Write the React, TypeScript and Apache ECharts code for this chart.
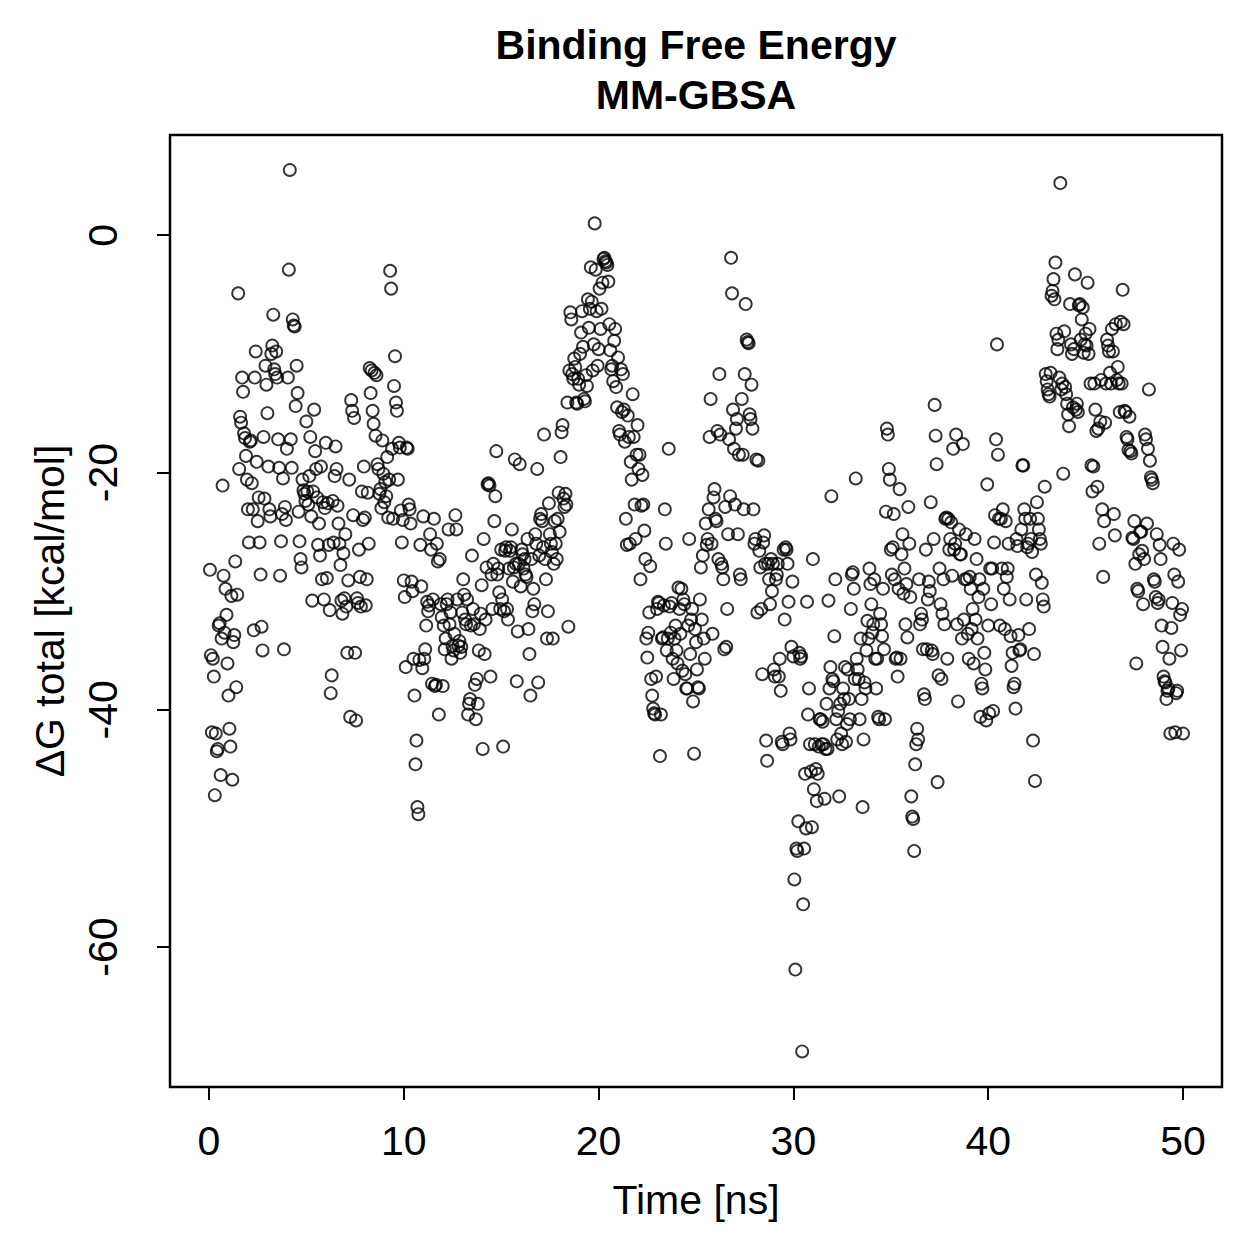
import React, { useEffect, useRef } from "react";
import * as echarts from "echarts";

// ΔG total [kcal/mol] values, one row per nanosecond of simulation time
const dGRowsByNs: number[][] = [
  [-28.2, -35.4, -41.9, -35.7, -37.2, -47.2, -42.0, -43.5, -43.3, -32.9, -32.7, -45.5, -34.0, -21.1, -28.7, -33.5, -29.8, -32.0, -36.1, -38.8],
  [-41.6, -43.1, -30.4, -45.9, -34.3, -33.7, -27.5, -38.1, -30.3, -4.9, -19.7, -15.3, -15.8, -12.0, -13.2, -16.7, -17.1, -18.6, -20.6, -23.1],
  [-25.9, -17.4, -17.3, -20.9, -23.1, -33.3, -12.0, -9.8, -19.1, -24.1, -22.1, -25.9, -28.6, -33.0, -35.0, -17.0, -22.2, -11.0, -12.6, -15.0],
  [-19.5, -23.1, -23.7, -10.0, -9.3, -6.7, -11.3, -11.7, -9.8, -12.0, -17.2, -19.6, -28.7, -25.8, -23.5, -20.5, -34.9, -22.9, -24.0, -18.0],
  [-12.0, -2.9, 5.5, -17.2, -19.6, -7.1, -7.6, -7.7, -14.4, -11.0, -13.3, -23.3, -25.8, -27.3, -28.0, -20.6, -21.5, -21.8, -22.4, -15.7],
  [-21.6, -22.7, -20.3, -17.0, -23.7, -30.8, -21.6, -14.7, -18.2, -19.7, -22.1, -26.1, -24.3, -27.0, -19.5, -29.0, -22.5, -30.7, -23.0, -17.5],
  [-28.9, -22.6, -26.1, -31.6, -38.6, -37.1, -22.4, -25.9, -20.3, -17.8, -19.7, -22.8, -24.3, -26.0, -27.8, -30.8, -31.9, -26.8, -30.6, -25.2],
  [-31.3, -35.2, -29.1, -20.6, -40.6, -13.9, -14.8, -23.6, -15.4, -35.2, -40.9, -30.6, -31.0, -26.5, -28.8, -31.3, -21.6, -24.0, -19.5, -23.8],
  [-31.2, -29.0, -21.7, -26.0, -11.2, -13.3, -11.4, -14.8, -15.9, -11.6, -16.9, -11.8, -19.3, -19.7, -21.8, -21.4, -23.0, -17.3, -20.1, -22.5],
  [-20.8, -22.0, -18.7, -23.8, -20.6, -3.0, -4.5, -18.0, -23.9, -12.7, -10.2, -14.1, -14.8, -20.6, -17.5, -17.9, -23.2, -25.9, -24.0, -29.1],
  [-30.5, -36.4, -17.9, -18.0, -22.7, -23.1, -24.3, -29.2, -30.0, -35.7, -38.8, -44.6, -42.6, -48.2, -48.8, -35.8, -26.1, -29.6, -36.5, -23.7],
  [-35.7, -34.9, -32.9, -30.9, -31.7, -31.2, -25.2, -26.5, -37.8, -30.7, -23.9, -38.0, -37.9, -26.0, -27.5, -40.4, -27.3, -31.1, -32.2, -38.0],
  [-32.9, -34.9, -34.0, -31.1, -30.7, -24.8, -32.8, -31.8, -35.7, -34.6, -35.0, -33.6, -23.6, -24.8, -30.7, -34.6, -34.2, -35.2, -34.7, -31.8],
  [-29.0, -30.3, -32.4, -32.8, -30.7, -40.4, -39.5, -39.1, -32.9, -27.0, -31.5, -32.8, -37.9, -40.8, -37.4, -39.5, -35.0, -33.2, -31.9, -29.5],
  [-43.3, -25.6, -35.3, -32.4, -28.0, -21.0, -20.9, -21.1, -37.2, -28.6, -31.5, -27.7, -24.1, -22.0, -18.2, -28.6, -28.1, -30.1, -31.5, -26.5],
  [-30.7, -43.1, -31.7, -26.6, -26.3, -31.5, -32.4, -28.1, -26.6, -26.3, -24.8, -29.2, -28.0, -18.9, -27.7, -37.6, -33.4, -27.7, -19.3, -29.6],
  [-26.5, -26.9, -28.1, -27.3, -28.6, -28.8, -25.6, -33.2, -35.3, -38.8, -27.3, -31.7, -29.8, -31.1, -25.2, -26.0, -19.7, -37.7, -27.0, -23.9],
  [-23.5, -24.1, -26.3, -16.8, -27.3, -29.0, -34.0, -31.7, -22.6, -25.2, -26.0, -26.7, -34.0, -27.7, -24.1, -26.0, -27.3, -23.9, -21.7, -25.0],
  [-18.7, -16.6, -16.0, -22.2, -22.9, -21.8, -22.7, -14.1, -33.0, -11.4, -6.5, -7.1, -11.7, -12.1, -10.4, -11.1, -14.1, -14.2, -12.1, -12.6],
  [-10.0, -8.2, -6.4, -9.4, -13.8, -14.0, -11.8, -12.7, -5.4, -7.8, -6.2, -2.7, -5.6, -11.4, -9.2, 1.0, -2.9, -6.4, -11.0, -9.6],
  [-4.5, -7.9, -6.2, -4.0, -2.0, -1.9, -2.2, -2.3, -2.5, -3.9, -7.5, -9.7, -11.3, -11.0, -12.3, -8.9, -7.9, -12.8, -14.5, -10.3],
  [-16.5, -16.8, -11.3, -14.9, -11.7, -14.7, -17.4, -23.9, -26.1, -15.2, -17.0, -26.0, -19.1, -20.6, -13.4, -17.0, -22.7, -25.6, -18.5, -16.0],
  [-19.7, -18.5, -29.0, -22.8, -20.2, -22.7, -24.9, -27.3, -34.0, -35.6, -33.5, -31.8, -27.9, -37.4, -38.8, -39.9, -40.3, -40.4, -37.2, -31.5],
  [-30.9, -31.0, -43.9, -40.4, -34.0, -33.9, -31.2, -23.1, -26.0, -35.0, -34.0, -18.0, -31.3, -33.5, -31.0, -35.7, -37.4, -34.0, -32.9, -35.0],
  [-36.1, -29.7, -31.5, -33.6, -29.8, -36.7, -30.7, -31.1, -37.0, -38.2, -38.2, -32.9, -25.6, -35.3, -32.4, -31.5, -39.3, -43.7, -33.2, -34.3],
  [-36.6, -38.1, -38.2, -30.7, -28.0, -32.4, -27.0, -34.0, -35.7, -24.3, -26.1, -25.6, -23.1, -17.0, -13.8, -26.0, -33.6, -22.1, -21.4, -23.9],
  [-24.1, -16.5, -27.3, -11.7, -16.8, -27.7, -28.0, -29.0, -34.9, -22.9, -34.7, -31.5, -25.2, -17.2, -22.0, -1.9, -4.9, -14.7, -18.0, -22.7],
  [-16.3, -15.5, -25.2, -18.5, -28.6, -29.0, -13.8, -18.5, -23.1, -11.7, -5.8, -8.8, -9.0, -9.1, -15.1, -15.5, -12.6, -16.3, -23.1, -26.0],
  [-25.6, -18.9, -31.8, -19.0, -26.6, -28.0, -31.5, -37.0, -25.9, -25.3, -27.7, -42.6, -44.3, -27.7, -29.0, -31.1, -27.3, -30.0, -27.7, -36.6],
  [-37.2, -29.0, -28.6, -27.7, -37.2, -35.7, -38.4, -42.7, -42.9, -26.5, -32.4, -26.3, -26.5, -27.7, -30.9, -42.0, -42.5, -34.7, -29.2, -35.5],
  [-54.3, -61.9, -51.7, -51.9, -49.4, -35.2, -35.7, -35.5, -68.8, -56.4, -51.7, -45.4, -50.0, -30.9, -40.4, -38.2, -42.9, -45.2, -49.9, -27.3],
  [-46.7, -42.9, -45.0, -47.7, -45.4, -43.1, -40.8, -40.8, -42.9, -41.0, -42.9, -47.5, -43.3, -39.5, -43.3, -30.8, -38.2, -36.4, -22.0, -37.4],
  [-37.6, -33.8, -29.0, -40.8, -42.5, -40.1, -47.3, -39.5, -42.0, -42.9, -38.2, -39.1, -36.4, -42.7, -41.2, -36.6, -39.1, -40.8, -31.5, -28.6],
  [-28.4, -29.8, -37.4, -20.5, -35.7, -36.6, -37.4, -40.8, -34.0, -39.1, -48.2, -42.5, -37.7, -38.2, -35.0, -32.5, -34.0, -28.1, -29.4, -31.1],
  [-33.5, -32.8, -29.0, -35.7, -38.2, -35.7, -40.6, -40.8, -31.9, -32.8, -33.8, -29.8, -34.9, -40.8, -23.3, -16.3, -16.8, -19.7, -20.6, -26.5],
  [-28.6, -26.3, -23.5, -29.0, -35.7, -35.6, -37.2, -29.8, -21.4, -35.7, -26.9, -25.2, -30.2, -28.1, -32.8, -29.4, -33.9, -22.9, -26.0, -30.5],
  [-47.3, -49.0, -49.2, -51.9, -44.6, -42.9, -41.6, -42.5, -29.0, -32.8, -31.9, -32.4, -34.9, -38.7, -39.1, -26.5, -34.9, -30.7, -29.2, -30.0],
  [-22.5, -35.0, -35.3, -25.6, -14.3, -16.9, -19.3, -46.1, -37.1, -28.1, -31.1, -37.4, -31.9, -29.0, -32.8, -23.9, -23.8, -35.7, -23.9, -26.5],
  [-25.6, -24.2, -28.7, -18.0, -26.5, -26.0, -16.8, -32.8, -39.3, -24.8, -26.9, -26.9, -34.0, -17.6, -32.4, -29.0, -25.2, -29.0, -33.6, -35.7],
  [-28.8, -29.8, -33.2, -31.5, -36.1, -25.6, -32.4, -27.3, -34.0, -30.5, -29.0, -40.6, -37.8, -38.2, -29.8, -35.2, -36.6, -40.9, -21.0, -32.9],
  [-40.3, -28.1, -31.1, -28.1, -40.1, -25.9, -23.6, -17.2, -9.2, -18.5, -23.9, -32.9, -23.9, -28.1, -23.1, -29.8, -33.2, -24.1, -28.8, -28.1],
  [-26.0, -30.7, -33.8, -36.3, -35.2, -38.1, -37.8, -39.9, -25.6, -26.2, -33.7, -35.0, -34.9, -24.8, -19.4, -19.4, -23.1, -23.9, -30.7, -26.3],
  [-26.0, -33.2, -23.9, -25.6, -26.7, -42.6, -35.3, -46.0, -28.6, -22.5, -23.9, -24.8, -25.6, -26.0, -29.3, -30.7, -31.3, -21.2, -11.7, -12.3],
  [-13.0, -13.4, -13.6, -11.6, -5.1, -4.7, -3.7, -5.4, -2.3, -8.3, -9.6, -8.8, -12.0, 4.4, -13.0, -12.5, -20.1, -8.1, -12.8, -13.4],
  [-14.2, -15.1, -16.1, -5.8, -9.2, -10.0, -14.5, -9.6, -3.3, -14.7, -14.2, -14.9, -5.9, -5.8, -8.8, -7.1, -6.1, -9.9, -9.2, -8.3],
  [-9.3, -4.0, -10.0, -7.9, -12.5, -19.4, -21.6, -19.5, -12.5, -14.7, -16.5, -21.2, -16.3, -26.0, -15.7, -12.2, -23.1, -28.8, -24.1, -15.8],
  [-12.5, -8.8, -9.3, -9.8, -11.6, -12.5, -7.9, -9.8, -23.5, -25.3, -7.5, -12.2, -11.1, -12.5, -14.9, -7.3, -12.5, -4.6, -7.5, -14.8],
  [-14.9, -17.0, -17.2, -18.1, -15.3, -18.2, -18.4, -25.5, -25.6, -24.1, -27.7, -36.1, -29.8, -30.0, -26.9, -25.0, -25.0, -26.6, -31.1, -27.3],
  [-16.8, -17.2, -24.3, -18.0, -13.0, -19.0, -20.4, -20.6, -20.9, -29.0, -29.2, -30.5, -25.2, -31.0, -30.7, -26.1, -27.3, -32.9, -34.7, -37.2],
  [-37.6, -37.7, -39.1, -38.4, -38.2, -35.7, -42.0, -33.1, -31.0, -26.0, -28.6, -41.9, -38.6, -38.4, -29.2, -26.5, -32.0, -35.0, -31.5, -42.0],
];

const xTickValues = [0, 10, 20, 30, 40, 50];
const yTickValues = [-60, -40, -20, 0];
const titleText = "Binding Free Energy\nMM-GBSA";
const xTitle = "Time [ns]";
const yTitle = "ΔG total [kcal/mol]";

const FONT = "Liberation Sans, Arial, Helvetica, sans-serif";

export default function App() {
  const ref = useRef<HTMLDivElement>(null);

  useEffect(() => {
    if (!ref.current) return;
    const chart = echarts.init(ref.current, undefined, { renderer: "svg" });

    const points: number[][] = [];
    dGRowsByNs.forEach((row, ns) => {
      row.forEach((v, k) => {
        points.push([ns + (k + 1) / row.length, v]);
      });
    });

    chart.setOption({
      animation: false,
      backgroundColor: "#ffffff",
      title: {
        text: titleText,
        left: 696,
        top: 20,
        textAlign: "center",
        padding: 0,
        textStyle: {
          fontFamily: FONT,
          fontWeight: "bold",
          fontSize: 41,
          lineHeight: 50,
          color: "#000",
        },
      },
      grid: {
        left: 170,
        top: 135,
        width: 1052,
        height: 952,
        show: true,
        borderColor: "#000",
        borderWidth: 2.5,
        backgroundColor: "transparent",
        containLabel: false,
      },
      xAxis: {
        type: "value",
        min: -2,
        max: 52,
        name: xTitle,
        nameLocation: "middle",
        nameGap: 92,
        nameTextStyle: { fontFamily: FONT, fontSize: 41, color: "#000" },
        axisLine: { show: false, onZero: false },
        splitLine: { show: false },
        axisTick: {
          show: true,
          length: 13,
          inside: false,
          customValues: xTickValues,
          lineStyle: { color: "#000", width: 2 },
        },
        axisLabel: {
          show: true,
          customValues: xTickValues,
          margin: 33,
          fontFamily: FONT,
          fontSize: 41,
          color: "#000",
        },
      },
      yAxis: {
        type: "value",
        min: -71.8,
        max: 8.45,
        name: yTitle,
        nameLocation: "middle",
        nameRotate: 90,
        nameGap: 100,
        nameTextStyle: { fontFamily: FONT, fontSize: 41, color: "#000" },
        axisLine: { show: false, onZero: false },
        splitLine: { show: false },
        axisTick: {
          show: true,
          length: 13,
          inside: false,
          customValues: yTickValues,
          lineStyle: { color: "#000", width: 2 },
        },
        axisLabel: {
          show: true,
          customValues: yTickValues,
          rotate: 90,
          margin: 47,
          fontFamily: FONT,
          fontSize: 41,
          color: "#000",
        },
      },
      series: [
        {
          type: "scatter",
          data: points,
          symbol: "circle",
          symbolSize: 12,
          itemStyle: {
            color: "rgba(0,0,0,0)",
            borderColor: "#000",
            borderWidth: 1.9,
          },
          emphasis: { disabled: true },
        },
      ],
    });

    return () => {
      chart.dispose();
    };
  }, []);

  return (
    <div
      ref={ref}
      style={{ position: "fixed", left: 0, top: 0, width: 1259, height: 1259, background: "#fff" }}
    />
  );
}
